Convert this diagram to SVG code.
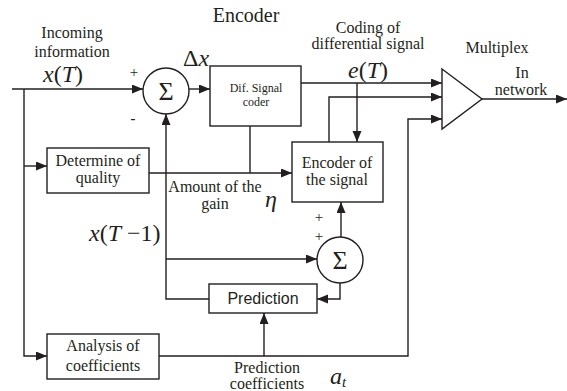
<svg xmlns="http://www.w3.org/2000/svg" width="567" height="391" viewBox="0 0 567 391">
  <style>
    .box { fill: #ffffff; stroke: #231f20; stroke-width: 1.4; }
    .wire { fill: none; stroke: #231f20; stroke-width: 1.4; }
    .arr { marker-end: url(#head); }
    .lbl { font-family: "Liberation Serif", "Times New Roman", serif; font-size: 16px; fill: #231f20; text-anchor: middle; }
    .small { font-size: 12px; }
    .sans { font-family: "Liberation Sans", Arial, sans-serif; font-size: 16px; fill: #231f20; text-anchor: middle; }
    .math { font-family: "Liberation Serif", "Times New Roman", serif; font-size: 24px; fill: #231f20; }
    .it { font-style: italic; }
    .sig { font-family: "Liberation Serif", "Times New Roman", serif; font-size: 26px; fill: #231f20; text-anchor: middle; }
  </style>
  <defs>
    <marker id="head" markerUnits="userSpaceOnUse" markerWidth="12" markerHeight="10" refX="11" refY="4.5" orient="auto">
      <path d="M0,0 L11,4.5 L0,9 z" fill="#231f20"/>
    </marker>
  </defs>
  <rect width="567" height="391" fill="#ffffff"/>

  <!-- connectors -->
  <g id="connectors">
    <path class="wire arr" d="M12,89 H143"/>
    <path class="wire arr" d="M24,89 V356 H47"/>
    <path class="wire arr" d="M24,166 H47"/>
    <path class="wire arr" d="M189,89 H210"/>
    <path class="wire arr" d="M301,83 H442"/>
    <path class="wire arr" d="M357,83 V142"/>
    <path class="wire arr" d="M329,142 V97 H442"/>
    <path class="wire" d="M250,126 V173"/>
    <path class="wire arr" d="M149,173 H292"/>
    <path class="wire arr" d="M209,299 H166 V114"/>
    <path class="wire arr" d="M166,259 H317"/>
    <path class="wire arr" d="M341,237 V202"/>
    <path class="wire arr" d="M340,283 V299 H317"/>
    <path class="wire arr" d="M159,356 H408 V119 H442"/>
    <path class="wire arr" d="M264,356 V313"/>
    <path class="wire arr" d="M482,99 H567"/>
  </g>

  <!-- summing junction at the input -->
  <g id="sum1">
    <circle class="box" cx="166" cy="91" r="23"/>
    <text class="sig" x="166" y="100">Σ</text>
    <text class="lbl" x="134" y="77" style="font-size:15px">+</text>
    <text class="lbl" x="133" y="124" style="font-size:16px;font-family:'Liberation Sans',sans-serif">-</text>
  </g>

  <g id="difcoder">
    <rect class="box" x="210" y="66" width="91" height="60"/>
    <text class="lbl small" x="256" y="92">Dif. Signal</text>
    <text class="lbl small" x="256" y="106">coder</text>
  </g>

  <g id="quality">
    <rect class="box" x="47" y="148" width="102" height="45"/>
    <text class="lbl" x="98" y="166">Determine of</text>
    <text class="lbl" x="98" y="183">quality</text>
  </g>

  <g id="encoder">
    <rect class="box" x="292" y="142" width="91" height="60"/>
    <text class="lbl" x="337" y="168">Encoder of</text>
    <text class="lbl" x="337" y="185">the signal</text>
  </g>

  <g id="sum2">
    <circle class="box" cx="340" cy="260" r="23"/>
    <text class="sig" x="340" y="269">Σ</text>
    <text class="lbl" x="319" y="222" style="font-size:15px">+</text>
    <text class="lbl" x="319" y="241" style="font-size:15px">+</text>
  </g>

  <g id="prediction">
    <rect class="box" x="209" y="284" width="108" height="29"/>
    <text class="sans" x="263" y="304">Prediction</text>
  </g>

  <g id="analysis">
    <rect class="box" x="47" y="334" width="112" height="45"/>
    <text class="lbl" x="103" y="351">Analysis of</text>
    <text class="lbl" x="103" y="371">coefficients</text>
  </g>

  <g id="multiplex">
    <path class="box" d="M442,69 L482,99 L442,129 z"/>
  </g>

  <!-- labels -->
  <g id="labels">
    <text class="lbl" x="246" y="22" style="font-size:20px">Encoder</text>
    <text class="lbl" x="72" y="38">Incoming</text>
    <text class="lbl" x="72" y="57">information</text>
    <text class="math" x="43" y="82"><tspan class="it">x</tspan>(<tspan class="it">T</tspan>)</text>
    <text class="math" x="183" y="66">Δ<tspan class="it">x</tspan></text>
    <text class="lbl" x="368" y="33">Coding of</text>
    <text class="lbl" x="368" y="49">differential signal</text>
    <text class="math" x="348" y="78"><tspan class="it">e</tspan>(<tspan class="it">T</tspan>)</text>
    <text class="lbl" x="497" y="53">Multiplex</text>
    <text class="lbl" x="522" y="78">In</text>
    <text class="lbl" x="521" y="95">network</text>
    <text class="lbl" x="215" y="192">Amount of the</text>
    <text class="lbl" x="215" y="209">gain</text>
    <text class="math it" x="265" y="207">η</text>
    <text class="math" x="89" y="241"><tspan class="it">x</tspan>(<tspan class="it">T</tspan> <tspan>−</tspan>1)</text>
    <text class="lbl" x="267" y="373">Prediction</text>
    <text class="lbl" x="267" y="389">coefficients</text>
    <text class="math it" x="330" y="384">a<tspan font-size="15" dy="3">t</tspan></text>
  </g>
</svg>
